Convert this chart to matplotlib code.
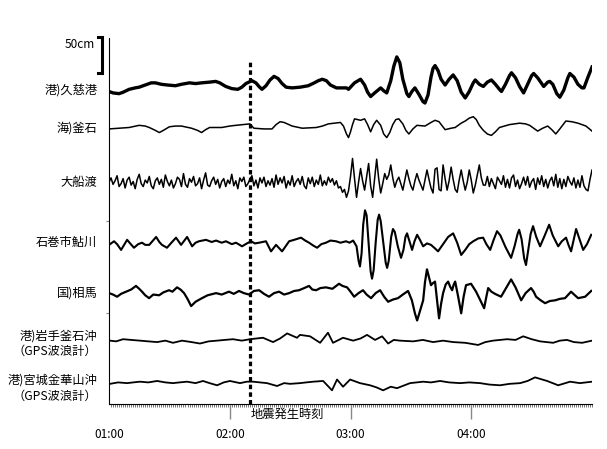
import matplotlib.pyplot as plt
from matplotlib.ticker import MultipleLocator
import matplotlib.transforms as mtransforms

plt.rcParams['font.family'] = ['Noto Sans CJK JP', 'DejaVu Sans']

# station names, top to bottom
stations = ["港)久慈港", "海)釜石", "大船渡", "石巻市鮎川", "国)相馬",
            "港)岩手釜石沖\n（GPS波浪計）", "港)宮城金華山沖\n（GPS波浪計）"]
time_labels = ["01:00", "02:00", "03:00", "04:00"]
quake_min = 10  # 02:10

# water level, cm, against minutes after 01:00
kuji_t = [0, 2, 5, 7, 10, 13, 15, 18, 21, 23, 26, 29, 33, 36, 40, 43, 46, 50, 53, 55,
          58, 61, 64, 66, 68, 71, 73, 74.5, 76, 78, 80, 82, 84, 86, 88, 91, 95, 97, 99,
          102, 104, 106, 108, 110, 113, 116, 118, 119, 120, 122, 125, 127, 128.5, 130,
          132, 135, 136.5, 138, 140, 141.5, 143, 144.5, 146, 148, 149, 150.5, 152, 154,
          156, 157, 158.5, 160, 161, 162, 163.5, 165, 167, 169, 171, 173, 175, 177, 179,
          181, 182, 184, 186, 188, 190, 192, 194, 195, 197, 199, 200, 202, 204, 206, 208,
          210, 211, 213, 216, 218, 219, 220.5, 222.5, 224, 226, 228, 229, 231, 233, 235,
          236, 238, 240]
kuji_cm = [-5, -7, -8, -6, -2, 0, 1, 4, 7, 7, 5, 4, 3, 5, 7, 6, 7, 8, 9, 7,
           2, -1, -2, 1, 6, 10, 7, 2, -2, 3, 11, 16, 13, 6, 1, 0, 1, 2, 3,
           7, 10, 12, 10, 4, 0, 0, 0, -2, 1, 7, 12, 4, -6, -12,
           -7, 0, -4, -7, 10, 30, 43, 35, 12, -8, -12, -5, 0, -9,
           -19, -21, -10, 15, 27, 31, 24, 12, 4, 12, 18, 10, -6, -14, -5,
           7, 11, 5, 2, 8, 11, 5, -2, -5, 5, 17, 21, 14, 2, -7, 5,
           17, 20, 14, 2, 8, 9, 5, -8, -13, -3, 14, 20, 15, 5, 0,
           0, 15, 29]

kamaishi_t = [0, 5, 10, 15, 18, 20, 23, 25, 27, 30, 33, 36, 41, 44, 46, 48, 50, 56, 60,
              63, 70, 71, 72, 77, 81, 83, 85, 87, 91, 96, 103, 106, 109, 112, 115, 116.5,
              118, 119, 120, 121, 122, 125, 127, 128.5, 130, 131.5, 133, 135, 136.5, 138,
              139.5, 141, 142.5, 144, 146, 147.5, 149, 151, 153, 157, 160, 162, 164, 167,
              170, 172, 175, 177, 179, 181, 182.5, 184, 186, 188, 190, 192, 194, 199, 204,
              207, 209, 211, 213, 215.5, 218, 220, 222, 224, 227, 230, 233, 237, 240]
kamaishi_cm = [-1, 0, 1, 4, 3, 1, -3, -6, -3, 2, 3, 3, 0, -3, -6, -2, 1, 1, 3,
               4, 6, 3, 0, -1, -1, 5, 9, 8, 3, 0, 1, 3, 6, 7, 8, 3,
               -8, -13, -5, 5, 13, 11, 13, 5, -5, 5, 11, 4, -8, -13,
               -6, 5, 12, 13, 6, -3, -8, -1, 4, 3, 8, 11, 9, -2,
               0, 1, 7, 10, 14, 16, 12, 4, -3, -8, -10, -5, 1, 5, 7,
               6, 4, 0, -4, 0, 3, -2, -8, -1, 10, 9, 7, 3, -4]

# one value per minute, 01:00 to 05:00
ofunato_cm = [0, 6, -3, 2, 9, -6, -2, 5, -8, 3, 7, -4, 1, -9, 4, 11, -2, -6, 3, -1,
              8, -5, -9, 2, 6, -3, 4, -7, 10, 1, -5, 3, -8, -2, 7, 4, -6, 12, -3, -7,
              5, 0, 8, -5, -2, 6, -9, 3, 13, -4, -6, 2, 7, -3, 4, -8, 1, 5, -6, 3,
              -2, 11, -5, 2, -9, 6, 1, 7, -6, -2, 4, 9, -5, 3, -8, 6, -1, 7, -6, 2,
              -4, 5, -7, 10, -3, 6, -1, 8, -8, 2, -4, 9, -6, 1, 5, -3, 8, -5, -9, 6,
              -2, 7, -6, 3, -3, 10, -5, 2, -4, 7, 0, 5, -4, 2, -8, -6, -14, -10, -21, -12,
              8, 33, 5, -21, 0, 19, 2, -11, 8, 26, -5, -21, 6, 32, 5, -15, -2, 12, 4, 10,
              24, 6, -7, 2, 7, -2, -11, 3, 17, 5, -5, -11, 2, 12, 3, -4, -11, 3, 17, 4,
              -8, -15, 18, 20, -10, -12, 24, 5, -11, 2, 21, 4, -10, -14, 3, 17, 2, -11, 0, 17,
              3, -15, -4, 10, 24, 6, -4, -4, 8, -6, 5, -2, -9, 7, 2, -3, 9, -7, 4, -8,
              6, 10, -6, 3, -9, -2, 7, -4, 8, -7, 1, 5, -10, 6, -3, 9, -6, 4, -8, 2,
              7, -5, 11, -7, 5, -9, 4, -6, 8, 1, -4, 6, -8, 3, -7, 9, -5, -10, -12, 4,
              17]

ayukawa_t = [0, 2.5, 4, 6, 9, 10.5, 12.4, 14.5, 16.4, 18, 20, 23.4, 25, 26.3, 28.8, 31,
             33.3, 35.8, 38.8, 41.3, 43, 44.7, 48.2, 51, 53.2, 56, 58.1, 61, 63.1, 66.1,
             68.5, 70.6, 72.5, 74.6, 78, 80.5, 83, 86, 89.5, 92, 95.4, 97.5, 99.4, 101.5,
             103.4, 105.5, 107.8, 110, 112.8, 115, 117.8, 119.5, 121.3, 123, 124, 124.7,
             125.5, 126.3, 127.2, 128, 129, 130, 130.7, 131.5, 132.5, 133.5, 134.2, 135,
             136.5, 137.5, 138.2, 139, 140.2, 141.1, 142, 143.5, 145.1, 146.3, 147.3,
             148.1, 149.3, 150.6, 151.8, 153.1, 154.5, 156.1, 158, 160, 162, 163.5, 165,
             166.5, 168.5, 171, 173, 175, 177, 179, 181, 183.5, 185.9, 187.5, 189.4, 191,
             192.8, 194.5, 197, 199.8, 201.5, 203, 203.8, 205, 206.3, 207.2, 208.3, 209.5,
             210.7, 212.3, 214.2, 216.5, 218.7, 220.5, 223.2, 225, 227.1, 228.3, 229.6,
             231, 232.1, 233.8, 235.6, 237.5, 239.6]
ayukawa_cm = [-3, 2, -2, -10, 4, -1, -7, -2, 0, -3, -3, 8, 1, -3, -7, 0,
              7, -3, 8, -5, 0, 2, 4, 1, 3, 0, 2, -2, 0, -5,
              -1, 2, -1, 0, 2, -12, -3, -12, 2, 4, 7, 3, 0, -4,
              -7, -2, 0, 3, 2, 0, 2, 0, 3, -5, -25, -33,
              -15, 25, 45, 38, 0, -40, -50, -38, 0, 32, 39, 30,
              -5, -28, -35, -25, 8, 19, 15, -5, -21, -10, 8,
              13, 2, -10, 2, 11, 4, -5, -1, -3, -8, -12, -6,
              0, 8, 13, 0, -17, -10, -2, 2, 6, 7, -2, -10, 3,
              16, 10, -6, -21, -5, 12, 18, 5, -22, -31, -10, 12,
              23, 8, -5, 10, 25, 10, -5, 2, 7, -3, -12,
              5, 19, 5, -10, -2, 11]

soma_t = [0, 2, 4, 6, 8.5, 11, 13.4, 15, 16.4, 18, 19.9, 22, 24.9, 27, 29.8, 31.5, 33.8,
          35.5, 37.3, 39, 40.8, 43, 46.2, 49, 53.2, 56, 59.6, 62, 64.6, 67, 69.6, 72,
          74.6, 77, 79.5, 82, 84.5, 87, 89.5, 92, 94.4, 97, 99.4, 101, 102.9, 105, 107.8,
          111, 114.3, 116, 118.3, 120, 121.8, 124, 126.2, 128, 130.2, 132.5, 134.7, 136.7,
          138.7, 141, 143.6, 146, 148.6, 150.5, 152, 153.1, 154.5, 156.1, 157, 158, 159,
          160, 161, 162, 163, 164, 165, 166, 167.3, 168.5, 169.5, 170.5, 171.3, 172,
          173.5, 175, 176.2, 177.4, 179.9, 182.4, 184.5, 186.4, 187.5, 188.4, 190, 191.8,
          194.8, 197.5, 199.8, 202, 204.8, 207, 209.7, 211, 212.2, 214.5, 216.7, 219,
          221.7, 224, 226.6, 229.6, 231.5, 233.1, 236.6, 239.6]
soma_cm = [0, -2, -5, -1, 2, 5, 10, 6, 2, -3, -7, -2, -3, 1, 4, 2, 8,
           5, 0, -8, -18, -12, -7, -3, 0, -2, 2, -1, 3, 0, -2, 3,
           4, -1, -5, 0, 2, -2, 0, 3, 4, 7, 10, 5, 4, 7, 8,
           6, 13, 10, 8, 2, -5, 0, 4, -2, -7, 0, 4, -5,
           -12, -9, -7, -2, 3, -10, -28, -38, -25, -10, 15, 33, 22,
           11, 14, 16, -10, -35, -15, 0, 12, 16, 9, 4, 12, 16,
           -5, -28, -5, 11, 13, 2, -10, -21, -5, 7, 2, -1,
           -5, 8, 19, 8, -10, 0, 7, 2, -5, -10, -14, -11,
           -10, -8, -7, 2, -3, -7, -5, 3]

iwate_gps_t = [0.5, 3.5, 7, 11, 15.4, 19.5, 23.9, 28, 31.8, 36.3, 41, 45.2, 49.5, 53.7,
               57.5, 61.6, 66, 70.1, 76.5, 81.5, 85, 88.5, 93.4, 94.9, 99.9, 104.9, 108.8,
               111.3, 116.3, 121.3, 125, 128.2, 132.2, 135.7, 138.7, 141.5, 144.6, 151.1,
               156, 161, 166, 171, 177, 183.4, 187, 190.8, 197.8, 202, 205.8, 210, 214.2,
               220.7, 224, 227.6, 231, 235.1, 240]
iwate_gps_cm = [0, -1, 2, 1, 0, -1, -2, 0, -3, 0, -2, -4, -1, 0,
                1, 2, 0, 2, 4, -2, 3, 10, 4, 8, 6, -3, 11,
                -3, 4, 0, 3, 8, 1, 6, -4, 1, 0, -1,
                1, -2, 0, -2, -3, -6, -2, 0, 2, 1, 6, 2, -1,
                -3, 0, 1, -2, -3, 0]

kinka_gps_t = [0.5, 4.5, 9, 12, 15.4, 19.5, 23.9, 28, 31.8, 35, 38.8, 43, 46.7, 50,
               53.7, 57, 60.1, 65.1, 68.5, 71.6, 75, 78.5, 83.5, 87, 90, 94.9, 98, 101.4,
               106.4, 110.8, 113.3, 116.3, 119.8, 124.7, 129.7, 133, 136.2, 140, 143.1,
               149.6, 156.1, 160, 164.5, 169, 174.4, 179, 184.4, 189, 194.3, 199, 204.3,
               208, 211.7, 217.7, 223.2, 229.1, 234, 240]
kinka_gps_cm = [-1, 1, 0, 1, 2, 1, 3, 1, 0, 1, 2, 0, 3, 0,
                -3, 1, 3, 0, 2, 2, 1, 0, -4, 0, -1, 0, 1, 2,
                3, -10, 5, -5, 5, 0, -3, -6, -10, -5, -7,
                0, 2, 1, 3, 1, 0, 1, 0, -2, -3, -1, 0,
                3, 8, 3, -3, 2, 0, 2]

# layout: baseline of each trace (cm above the time axis) and line widths
offsets = [439, 383, 308, 224, 154, 88, 29]
label_y = [436, 383, 308, 224, 154, 84, 22]
widths = [2.4, 1.1, 1.1, 1.5, 1.6, 1.3, 1.3]

ofunato_t = list(range(len(ofunato_cm)))
series = [(kuji_t, kuji_cm), (kamaishi_t, kamaishi_cm), (ofunato_t, ofunato_cm),
          (ayukawa_t, ayukawa_cm), (soma_t, soma_cm),
          (iwate_gps_t, iwate_gps_cm), (kinka_gps_t, kinka_gps_cm)]

fig = plt.figure(figsize=(6.07, 4.49), dpi=100)
ax = fig.add_axes([0.1796, 0.1002, 0.7957, 0.8152])

for (t, cm), off, lw in zip(series, offsets, widths):
    hours = [1 + m / 60 for m in t]
    ax.plot(hours, [off + v for v in cm], color='black', lw=lw, solid_joinstyle='round')

trans = mtransforms.blended_transform_factory(ax.transAxes, ax.transData)
for name, y in zip(stations, label_y):
    ax.text(-0.024, y, name, transform=trans, ha='right', va='center',
            fontsize=8.8, linespacing=1.25)

# earthquake time
tq = 2 + quake_min / 60
ax.plot([tq, tq], [0, 478], color='black', lw=2.3, linestyle=(0, (1.4, 1.0)))
ax.text(tq + 0.01, -14, "地震発生時刻", ha='left', va='center', fontsize=8.8, clip_on=False)

# 50 cm scale bar
ax.plot([0.91, 0.942, 0.942, 0.91], [510, 510, 460, 460], color='black', lw=2.2,
        clip_on=False, solid_joinstyle='miter')
ax.text(0.884, 499, "50cm", ha='right', va='center', fontsize=8.5)

ax.set_xlim(1, 5)
ax.set_ylim(0, 508.3)
ax.set_xticks([1, 2, 3, 4])
ax.set_xticklabels(time_labels)
ax.xaxis.set_minor_locator(MultipleLocator(1 / 60))
ax.tick_params(axis='x', which='major', length=11, width=1, color='#888888',
               pad=6, labelsize=8.5)
ax.tick_params(axis='x', which='minor', length=2, width=0.5, color='#444444')
ax.xaxis.get_major_ticks()[0].tick1line.set_visible(False)
ax.set_yticks([126, 254])
ax.set_yticklabels([])
ax.tick_params(axis='y', length=2, width=0.8, color='#888888')
ax.spines['top'].set_visible(False)
ax.spines['right'].set_visible(False)

fig.savefig('out.png', dpi=100)
